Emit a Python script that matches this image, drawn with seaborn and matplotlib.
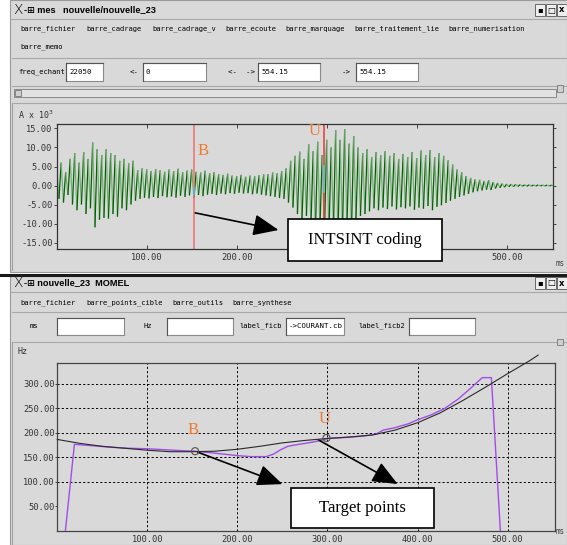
"""Capture d'écran : signal + courbe MOMEL (points cibles)"""

import numpy as np
import matplotlib
matplotlib.use("Agg")
import matplotlib.pyplot as plt
import seaborn as sns
from matplotlib.patches import Rectangle
from matplotlib.collections import LineCollection

# ---- données ----
# signal : un pic positif et un creux négatif par période (~5 ms), en A x 10^3
wave_t = [0, 5, 10, 15, 20, 25, 30, 35, 40, 45, 50, 55, 60, 65, 70, 75, 80, 85, 90, 95,
          100, 105, 110, 115, 120, 125, 130, 135, 140, 145, 150, 155, 160, 165, 170, 175,
          180, 185, 190, 195, 200, 205, 210, 215, 220, 225, 230, 235, 240, 245, 250, 255,
          260, 265, 270, 275, 280, 285, 290, 295, 300, 305, 310, 315, 320, 325, 330, 335,
          340, 345, 350, 355, 360, 365, 370, 375, 380, 385, 390, 395, 400, 405, 410, 415,
          420, 425, 430, 435, 440, 445, 450, 455, 460, 465, 470, 475, 480, 485, 490, 495,
          500, 505, 510, 515, 520, 525, 530, 535, 540, 545, 550]
wave_hi = [4.5, 6.0, 3.5, 7.0, 8.5, 6.0, 8.8, 7.0, 11.3, 9.5, 8.0, 9.5, 8.5, 8.0, 6.5, 7.0,
           5.8, 6.5, 4.0, 4.5, 4.2, 3.8, 4.3, 4.0, 3.6, 4.2, 3.8, 4.4, 3.5, 3.9, 4.2, 3.6,
           3.4, 3.9, 3.2, 3.5, 3.0, 2.8, 3.1, 2.6, 2.5, 2.8, 2.3, 2.6, 2.4, 2.7, 2.9, 3.0,
           3.4, 3.2, 3.8, 4.5, 6.5, 7.8, 8.9, 7.0, 10.8, 9.0, 11.5, 8.0, 12.0, 10.0, 14.5,
           12.0, 14.8, 11.0, 13.0, 10.0, 8.5, 9.5, 7.5, 8.8, 8.0, 9.0, 7.8, 8.5, 7.0, 8.3,
           7.5, 8.8, 7.2, 9.2, 8.0, 9.3, 7.4, 8.5, 7.8, 6.6, 5.5, 4.2, 3.5, 2.5, 2.0, 1.6,
           1.5, 1.2, 1.4, 0.9, 0.7, 0.5, 0.4, 0.35, 0.3, 0.25, 0.2, 0.2, 0.15, 0.15, 0.1,
           0.1, 0.1]
wave_lo = [-3.5, -4.5, -2.5, -5.0, -6.5, -5.0, -7.5, -6.0, -11.0, -9.0, -8.5, -8.7, -7.5,
           -8.2, -6.0, -6.5, -5.0, -4.0, -3.5, -3.2, -3.4, -3.0, -3.3, -2.8, -3.1, -2.9,
           -3.2, -2.7, -3.0, -2.6, -3.3, -2.5, -2.8, -2.4, -2.2, -2.5, -2.1, -2.3, -2.0,
           -2.2, -1.9, -2.1, -2.0, -2.3, -2.1, -2.4, -2.6, -2.8, -3.0, -3.3, -3.5, -4.5,
           -5.8, -7.5, -9.0, -8.0, -10.5, -12.0, -11.0, -13.0, -12.5, -11.5, -13.2, -12.0,
           -10.5, -12.5, -9.0, -8.0, -7.5, -6.8, -6.0, -6.5, -5.8, -6.2, -5.5, -6.3, -5.7,
           -6.0, -5.5, -6.4, -5.8, -6.1, -5.4, -6.5, -5.6, -5.2, -4.6, -4.0, -3.5, -3.0,
           -2.6, -2.2, -1.8, -1.5, -1.3, -1.1, -1.2, -0.8, -0.6, -0.45, -0.35, -0.3, -0.25,
           -0.2, -0.2, -0.15, -0.15, -0.1, -0.1, -0.1, -0.1]
boundary_t = [153, 297]          # B, U

# F0 (violet) et courbe MOMEL (noire), en Hz
f0_t = [9, 19, 40, 60, 80, 100, 120, 140, 153, 170, 185, 200, 215, 232, 240, 248, 256,
        265, 275, 285, 295, 300, 320, 340, 354, 362, 375, 390, 400, 415, 430, 445, 460,
        472, 482, 492]
f0_hz = [0, 176, 173, 170, 168, 167, 165, 163, 162, 159, 156, 153, 151, 151, 156, 165,
         172, 175, 178, 181, 185, 188, 190, 193, 197, 205, 210, 218, 226, 236, 249, 268,
         292, 312, 312, 0]
momel_t = [0, 25, 50, 75, 100, 125, 150, 175, 200, 225, 250, 275, 300, 325, 350, 375,
           400, 425, 450, 475, 500, 525, 534]
momel_hz = [186, 178, 172, 168, 164, 161, 161, 162, 166, 172, 179, 184, 188, 191, 195,
            205, 220, 240, 265, 292, 320, 347, 358]
target_t = [153, 299]
target_hz = [162, 189]

amp_ticks = [15, 10, 5, 0, -5, -10, -15]
hz_ticks = [50, 100, 150, 200, 250, 300]
hz_grid = [100, 150, 200, 250, 300]
ms_ticks = [100, 200, 300, 400, 500]

menu_top = ["barre_fichier", "barre_cadrage", "barre_cadrage_v", "barre_ecoute",
            "barre_marquage", "barre_traitement_lie", "barre_numerisation"]
menu_bot = ["barre_fichier", "barre_points_cible", "barre_outils", "barre_synthese"]

# ---- figure & outils en pixels ----
W, H = 567, 545
GRAY = "#d9d9d9"
fig = plt.figure(figsize=(W / 100, H / 100), dpi=100, facecolor="white")
MONO = "DejaVu Sans Mono"
SERIF = "Liberation Serif"


def fx(x):
    return x / W


def fy(y):
    return 1 - y / H


def rect(x0, y0, x1, y1, z=-5, **kw):
    fig.patches.append(Rectangle((fx(x0), fy(y1)), (x1 - x0) / W, (y1 - y0) / H,
                                 transform=fig.transFigure, zorder=z, **kw))


def hline(x0, x1, y, **kw):
    fig.add_artist(plt.Line2D([fx(x0), fx(x1)], [fy(y), fy(y)],
                              transform=fig.transFigure, **kw))


def vline(x, y0, y1, **kw):
    fig.add_artist(plt.Line2D([fx(x), fx(x)], [fy(y0), fy(y1)],
                              transform=fig.transFigure, **kw))


def txt(x, y, s, **kw):
    kw.setdefault("va", "center")
    fig.text(fx(x), fy(y), s, **kw)


def field(x0, x1, y0, y1, value=""):
    rect(x0, y0, x1, y1, z=1, facecolor="white", edgecolor="#8a8a8a", lw=0.8)
    hline(x0, x1, y0, color="#555555", lw=0.8, zorder=2)
    vline(x0, y0, y1, color="#555555", lw=0.8, zorder=2)
    if value:
        txt(x0 + 3, (y0 + y1) / 2, value, fontsize=5.3, family=MONO, zorder=3)


def title_bar(y, title):
    txt(13, y, "X", fontsize=10, family="DejaVu Sans", weight="light")
    txt(24, y, "-⊞ " + title, fontsize=6.6, family=["Liberation Sans", "DejaVu Sans"],
        weight="bold")
    for i, s in enumerate(["▪", "□", "x"]):
        x0 = 535 + i * 11
        rect(x0, y - 6, x0 + 10, y + 6, z=1, facecolor="#eeeeee", edgecolor="#555555", lw=0.6)
        txt(x0 + 5, y, s, ha="center", fontsize=6, weight="bold")


# fenêtres
rect(10, 0, 567, 272, facecolor=GRAY, edgecolor="#9a9a9a", lw=0.8)
rect(10, 276, 567, 545, facecolor=GRAY, edgecolor="#9a9a9a", lw=0.8)
hline(0, 567, 274.5, color="#1a1a1a", lw=2.2)
hline(10, 567, 19, color="#a8a8a8", lw=0.8)
hline(10, 567, 292, color="#a8a8a8", lw=0.8)
vline(12, 104, 270, color="#a0a0a0", lw=0.8)
vline(12, 342, 545, color="#a0a0a0", lw=0.8)

# fenêtre du haut
title_bar(10, "mes   nouvelle/nouvelle_23")
xs = [20, 86, 152, 225, 285, 354, 448]
for x, s in zip(xs, menu_top):
    txt(x, 29, s, fontsize=5.1, family=MONO)
txt(20, 47, "barre_memo", fontsize=5.1, family=MONO)
hline(12, 567, 58, color="#a8a8a8", lw=0.8)
txt(18, 72, "freq_echant", fontsize=5.1, family=MONO)
field(66, 103, 63, 81, "22050")
txt(130, 72, "<-", fontsize=5.3, family=MONO)
field(143, 206, 63, 81, "0")
txt(228, 72, "<-  ->", fontsize=5.3, family=MONO)
field(258, 320, 63, 81, "554.15")
txt(342, 72, "->", fontsize=5.3, family=MONO)
field(356, 418, 63, 81, "554.15")
hline(12, 567, 86, color="#a8a8a8", lw=0.8)
rect(14, 89, 556, 97, z=1, facecolor="#e2e2e2", edgecolor="#8a8a8a", lw=0.7)
rect(15, 90, 21, 96, z=2, facecolor="#cfcfcf", edgecolor="#777777", lw=0.6)
rect(557, 85, 563, 92, z=2, facecolor="#cfcfcf", edgecolor="#777777", lw=0.6)
hline(12, 567, 103, color="#a8a8a8", lw=0.8)
txt(18, 115, "A x 10$^{3}$", fontsize=6, family=MONO, color="#333333")
txt(556, 264, "ms", fontsize=5.5, family=MONO, color="#444444")

# fenêtre du bas
title_bar(283, "nouvelle_23  MOMEL")
xs = [20, 86, 172, 232]
for x, s in zip(xs, menu_bot):
    txt(x, 303, s, fontsize=5.1, family=MONO)
hline(12, 567, 312, color="#a8a8a8", lw=0.8)
txt(30, 326, "ms", fontsize=5.1, family=MONO)
field(57, 124, 318, 335)
txt(143, 326, "Hz", fontsize=5.1, family=MONO)
field(167, 233, 318, 335)
txt(239, 326, "label_ficb", fontsize=5.1, family=MONO)
field(286, 344, 318, 335, "->COURANT.cb")
txt(358, 326, "label_ficb2", fontsize=5.1, family=MONO)
field(409, 475, 318, 335)
hline(12, 567, 342, color="#a8a8a8", lw=0.8)
rect(557, 339, 563, 345, z=2, facecolor="#cfcfcf", edgecolor="#777777", lw=0.6)
txt(18, 351, "Hz", fontsize=6, family=MONO, color="#333333")
txt(556, 532, "ms", fontsize=5.5, family=MONO, color="#444444")

tick_kw = dict(labelsize=6.3, labelcolor="#333333", color="#444444", width=0.7)

# ---- signal ----
ax1 = fig.add_axes([fx(56.7), fy(249), (553.3 - 56.7) / W, (249 - 124.3) / H])
ax1.set_facecolor(GRAY)
t = np.asarray(wave_t, dtype=float)
pts = np.column_stack([np.ravel(np.column_stack([t, t + 2.5])),
                       np.ravel(np.column_stack([wave_hi, wave_lo]))])
segs = np.stack([pts[:-1], pts[1:]], axis=1)
cols = ["#006400" if i % 2 else "#78ad78" for i in range(len(segs))]
ax1.add_collection(LineCollection(segs, colors=cols, linewidths=0.9))
ax1.axvline(boundary_t[0], color="#f07070", lw=1.1)
ax1.axvline(boundary_t[1], color="#e83838", lw=1.1)
ax1.plot([boundary_t[0]] * 2, [-0.7, -2.4], color="#4fb8d8", lw=1.1)
ax1.plot([boundary_t[1]] * 2, [5.2, -1.6], color="#6cc0e0", lw=1.1)
ax1.set_xlim(0, 551.8)
ax1.set_ylim(-16.7, 16.1)
ax1.set_yticks(amp_ticks, [f"{v:.2f}" for v in amp_ticks], family=MONO)
ax1.set_xticks(ms_ticks, [f"{v:.2f}" for v in ms_ticks], family=MONO)
ax1.tick_params(axis="y", direction="out", length=2.5, pad=0.5, right=True, **tick_kw)
ax1.tick_params(axis="x", direction="in", length=3, pad=3, top=True, **tick_kw)
for sp in ax1.spines.values():
    sp.set_color("#333333")
    sp.set_linewidth(0.9)
ax1.text(boundary_t[0] + 4, 8.0, "B", color="#f07a30", fontsize=12, family=SERIF)
ax1.text(boundary_t[1] - 17, 13.2, "U", color="#f07a30", fontsize=12, family=SERIF)
arrow = dict(arrowstyle="-|>,head_length=1.3,head_width=0.55", color="black",
             lw=1.2, mutation_scale=12, shrinkA=0, shrinkB=0)
ax1.annotate("", xy=(246.5, -11.7), xytext=(154, -7.2), arrowprops=arrow,
             annotation_clip=False)
rect(287.5, 219.5, 442, 261.5, z=5, facecolor="white", edgecolor="black", lw=1.2)
txt(364.5, 240.5, "INTSINT coding", ha="center", fontsize=12, family=SERIF, zorder=6)

# ---- F0 / MOMEL ----
ax2 = fig.add_axes([fx(57.3), fy(530.7), (555.3 - 57.3) / W, (530.7 - 362.7) / H])
ax2.set_facecolor(GRAY)
for v in hz_grid:
    ax2.axhline(v, color="black", lw=0.7, ls=(0, (2.2, 2.2)), zorder=1)
for v in ms_ticks:
    ax2.axvline(v, color="black", lw=0.7, ls=(0, (2.2, 2.2)), zorder=1)
sns.lineplot(x=f0_t, y=f0_hz, ax=ax2, color="#a24de8", lw=1.0, estimator=None, zorder=3)
sns.lineplot(x=momel_t, y=momel_hz, ax=ax2, color="#2a2a2a", lw=0.8, estimator=None,
             zorder=4, clip_on=False)
sns.scatterplot(x=target_t, y=target_hz, ax=ax2, s=26, facecolor="none",
                edgecolor="#505050", linewidth=0.8, zorder=5)
ax2.set_xlim(0, 553)
ax2.set_ylim(0, 342.4)
ax2.set_yticks(hz_ticks, [f"{v:.2f}" for v in hz_ticks], family=MONO)
ax2.set_xticks(ms_ticks, [f"{v:.2f}" for v in ms_ticks], family=MONO)
ax2.tick_params(axis="y", direction="out", length=1.5, pad=0.5, **tick_kw)
ax2.tick_params(axis="x", direction="out", length=0, pad=3, **tick_kw)
ax2.set_xlabel("")
ax2.set_ylabel("")
for sp in ax2.spines.values():
    sp.set_color("#444444")
    sp.set_linewidth(0.9)
ax2.text(target_t[0] - 8, 197, "B", color="#f07a30", fontsize=12, family=SERIF)
ax2.text(target_t[1] - 9, 220, "U", color="#f07a30", fontsize=12, family=SERIF)
ax2.annotate("", xy=(250, 95), xytext=(156, 160), arrowprops=arrow, annotation_clip=False)
ax2.annotate("", xy=(378, 95), xytext=(290, 185), arrowprops=arrow, annotation_clip=False)
rect(291, 488, 434, 528, z=5, facecolor="white", edgecolor="black", lw=1.2)
txt(362.5, 508, "Target points", ha="center", fontsize=12, family=SERIF, zorder=6)

fig.savefig("out.png", dpi=100, facecolor="white")
